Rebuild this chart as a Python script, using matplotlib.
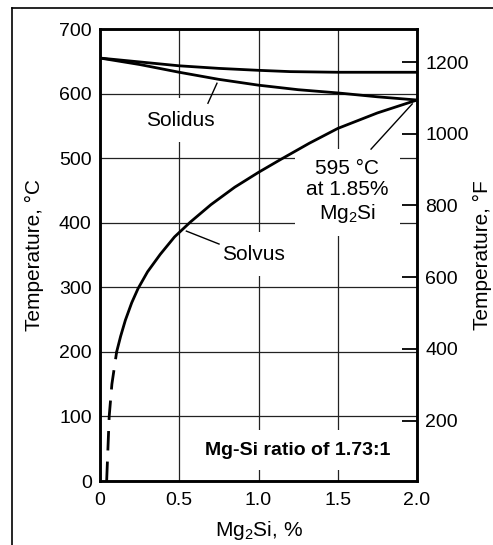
import matplotlib
matplotlib.use('Agg')
import matplotlib.pyplot as plt
from matplotlib.lines import Line2D

plt.rcParams['font.family'] = ['Liberation Sans', 'DejaVu Sans']
plt.rcParams['mathtext.fontset'] = 'custom'
plt.rcParams['mathtext.rm'] = 'Liberation Sans'

# curves (x = Mg2Si %, y = deg C)
liquidus_x = [0.0, 0.25, 0.5, 0.75, 1.0, 1.2, 1.5, 2.0]
liquidus_t = [655, 649, 643, 639, 636, 634, 633, 633]

solidus_x = [0.0, 0.25, 0.5, 0.75, 1.0, 1.25, 1.5, 1.75, 2.0]
solidus_t = [655, 645, 633, 622, 613, 606, 601, 595, 590]

solvus_dash_x = [0.042, 0.058, 0.075, 0.105]
solvus_dash_t = [0, 100, 150, 200]

solvus_x = [0.105, 0.13, 0.16, 0.20, 0.24, 0.30, 0.38, 0.47, 0.57, 0.70,
            0.85, 1.00, 1.14, 1.32, 1.50, 1.75, 2.00]
solvus_t = [200, 224, 249, 276, 298, 324, 351, 378, 401, 428,
            455, 478, 498, 523, 546, 570, 590]

f_ticks = [200, 400, 600, 800, 1000, 1200]

fig = plt.figure(figsize=(4.93, 5.45), dpi=100)
ax = fig.add_axes([100/493, 1-481/545, 317/493, 452/545])

ax.set_xlim(0, 2.0)
ax.set_ylim(0, 700)
ax.set_xticks([0, 0.5, 1.0, 1.5, 2.0])
ax.set_xticklabels(['0', '0.5', '1.0', '1.5', '2.0'])
ax.set_yticks(range(0, 701, 100))
ax.tick_params(axis='both', length=0, labelsize=14)
ax.tick_params(axis='y', pad=6)
ax.tick_params(axis='x', pad=8)
ax.grid(True, color='#222222', lw=0.9, zorder=1)
ax.set_axisbelow(True)
for s in ax.spines.values():
    s.set_linewidth(1.8)

# curves sit above the white label boxes
ax.plot(liquidus_x, liquidus_t, color='black', lw=2, zorder=5)
ax.plot(solidus_x, solidus_t, color='black', lw=2, zorder=5)
ax.plot(solvus_x, solvus_t, color='black', lw=2, zorder=5)
ax.plot(solvus_dash_x, solvus_dash_t, color='black', lw=2, zorder=5,
        dashes=(7, 4))

ax.set_xlabel('Mg$_2$Si, %', fontsize=15, labelpad=7)
ax.set_ylabel('Temperature, °C', fontsize=15)
ax.yaxis.set_label_coords(-0.177, 0.5)

box = dict(boxstyle='square,pad=0.6', fc='white', ec='none')

ax.text(0.51, 559, 'Solidus', fontsize=15, ha='center', va='center',
        bbox=box, zorder=4)
ax.plot([0.681, 0.738], [585, 616], color='black', lw=1, zorder=5)

ax.text(0.97, 351, 'Solvus', fontsize=15, ha='center', va='center',
        bbox=box, zorder=4)
ax.plot([0.545, 0.751], [387, 367], color='black', lw=1, zorder=5)

ax.text(1.56, 448, '595 °C\nat 1.85%\nMg$_2$Si', fontsize=15, ha='center',
        va='center', linespacing=1.15,
        bbox=dict(boxstyle='square,pad=0.55', fc='white', ec='none'), zorder=4)
ax.plot([1.71, 1.97], [514, 584], color='black', lw=1, zorder=5)

ax.text(1.25, 48, 'Mg-Si ratio of 1.73:1', fontsize=14, fontweight='bold',
        ha='center', va='center', bbox=box, zorder=4)

# Fahrenheit scale on the right
ax2 = ax.twinx()
ax2.set_ylim(0*9/5+32, 700*9/5+32)
ax2.set_yticks(f_ticks)
ax2.tick_params(axis='y', direction='in', length=11, width=1.3, labelsize=14, pad=6)
ax2.set_ylabel('Temperature, °F', fontsize=15)
ax2.yaxis.set_label_coords(1.175, 0.5)
for s in ax2.spines.values():
    s.set_linewidth(1.8)

# frame around the figure
fig.add_artist(Line2D([11.5/493, 11.5/493], [0, 1-8.3/545], color='black', lw=1.2))
fig.add_artist(Line2D([11.5/493, 1], [1-8.3/545, 1-8.3/545], color='black', lw=1.2))

fig.savefig('out.png', dpi=100)
